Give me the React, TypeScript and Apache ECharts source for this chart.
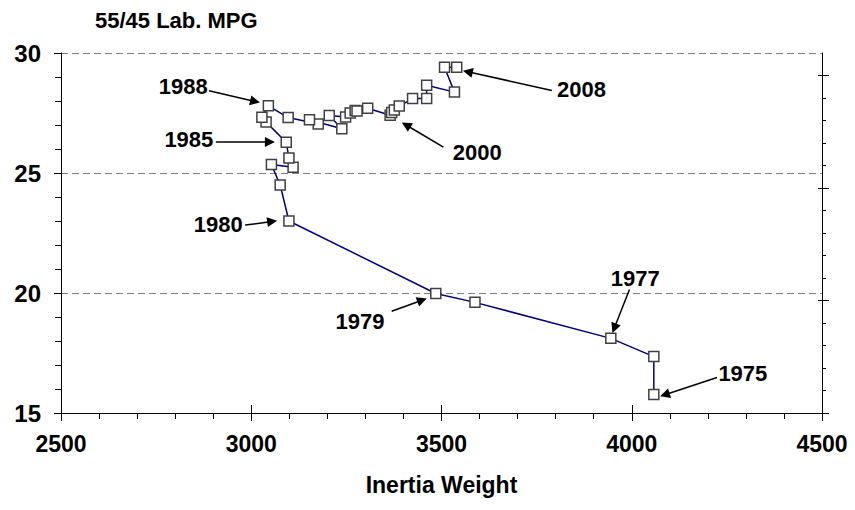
import React, { useEffect, useRef } from "react";
import * as echarts from "echarts";

// ---- data ----
const years = [
  1975, 1976, 1977, 1978, 1979, 1980, 1981, 1982, 1983, 1984, 1985, 1986,
  1987, 1988, 1989, 1990, 1991, 1992, 1993, 1994, 1995, 1996, 1997, 1998,
  1999, 2000, 2001, 2002, 2003, 2004, 2005, 2006, 2007, 2008,
];
const inertiaWeight = [
  4058, 4058, 3945, 3588, 3485, 3099, 3076, 3053, 3110, 3099, 3092, 3039,
  3028, 3045, 3097, 3176, 3153, 3238, 3205, 3248, 3260, 3273, 3278, 3306,
  3365, 3369, 3376, 3389, 3424, 3461, 3461, 3534, 3508, 3540,
];
const labMpg = [
  15.77, 17.35, 18.11, 19.61, 19.98, 23.0, 24.5, 25.35, 25.24, 25.63, 26.28,
  27.12, 27.32, 27.8, 27.31, 27.04, 27.22, 26.84, 27.4, 27.33, 27.5, 27.6,
  27.58, 27.7, 27.41, 27.52, 27.63, 27.79, 28.1, 28.1, 28.66, 28.37, 29.41,
  29.41,
];

// axis settings
const xMin = 2500;
const xMax = 4500;
const xStep = 500;
const yMin = 15;
const yMax = 30;
const yStep = 5;
// secondary (right) axis: unlabelled, ticks only
const rightMax = 16;
const rightMajor = [0, 5, 10, 15];
const rightMinor = [1, 2, 3, 4, 6, 7, 8, 9, 11, 12, 13, 14];

// annotations (data coordinates)
const noteLabels = ["1988", "1985", "1980", "1979", "1977", "1975", "2000", "2008"];
const noteTextAt = [
  [2821, 28.59], [2836, 26.38], [2913, 22.87], [3286, 18.83],
  [4009, 20.61], [4292, 16.66], [3594, 25.85], [3868, 28.5],
];
const noteArrowFrom = [
  [2889, 28.43], [2907, 26.3], [2984, 22.83], [3369, 19.24],
  [3994, 20.15], [4224, 16.48], [3505, 26.08], [3790, 28.44],
];
const noteArrowTo = [
  [3010, 27.98], [3049, 26.29], [3055, 22.98], [3449, 19.7],
  [3954, 18.53], [4087, 15.76], [3407, 27.0], [3569, 29.22],
];

const titleText = "55/45 Lab. MPG";
const xName = "Inertia Weight";

const FONT = "'Liberation Sans', Arial, Helvetica, sans-serif";

export default function App() {
  const ref = useRef<HTMLDivElement>(null);

  useEffect(() => {
    document.body.style.margin = "0";
    const chart = echarts.init(ref.current as HTMLDivElement, null, {
      renderer: "svg",
    });

    const labelStyle = {
      color: "#000000",
      fontWeight: "bold" as const,
      fontSize: 23,
      fontFamily: FONT,
    };

    const option: any = {
      animation: false,
      backgroundColor: "#fff",
      title: {
        text: titleText,
        left: 95,
        top: 9,
        padding: 0,
        textStyle: { ...labelStyle, fontSize: 22 },
      },
      grid: { left: 61, top: 53, width: 761, height: 360, containLabel: false },
      xAxis: [
        {
          type: "value",
          min: xMin,
          max: xMax,
          interval: xStep,
          position: "bottom",
          name: xName,
          nameLocation: "middle",
          nameGap: 60,
          nameTextStyle: { ...labelStyle },
          axisLine: { show: true, onZero: false, lineStyle: { color: "#000", width: 1 } },
          axisTick: { show: true, inside: false, length: 8, lineStyle: { color: "#000" } },
          minorTick: { show: true, splitNumber: 5, length: 6, lineStyle: { color: "#000" } },
          axisLabel: { ...labelStyle, margin: 19, formatter: (v: number) => String(v) },
          splitLine: { show: false },
        },
        {
          type: "value",
          min: xMin,
          max: xMax,
          interval: xStep,
          position: "bottom",
          axisLine: { show: false, onZero: false },
          axisTick: { show: true, inside: true, length: 8, lineStyle: { color: "#000" } },
          axisLabel: { show: false },
          splitLine: { show: false },
        },
      ],
      yAxis: [
        {
          type: "value",
          min: yMin,
          max: yMax,
          interval: yStep,
          position: "left",
          axisLine: { show: true, onZero: false, lineStyle: { color: "#000", width: 1 } },
          axisTick: { show: true, inside: false, length: 7, lineStyle: { color: "#000" } },
          minorTick: { show: true, splitNumber: 5, length: 6, lineStyle: { color: "#000" } },
          axisLabel: { ...labelStyle, fontSize: 24, margin: 20, formatter: (v: number) => String(v) },
          splitLine: {
            show: true,
            lineStyle: { color: "#7f7f7f", width: 1, type: [7, 4] },
          },
        },
        {
          type: "value",
          min: 0,
          max: rightMax,
          position: "right",
          axisLine: { show: true, onZero: false, lineStyle: { color: "#000", width: 1 } },
          axisTick: {
            show: true,
            inside: false,
            length: 7,
            customValues: rightMajor,
            lineStyle: { color: "#000" },
          },
          axisLabel: { show: false },
          splitLine: { show: false },
        },
        {
          type: "value",
          min: 0,
          max: rightMax,
          position: "right",
          axisLine: { show: false, onZero: false },
          axisTick: {
            show: true,
            inside: true,
            length: 4,
            customValues: rightMajor,
            lineStyle: { color: "#000" },
          },
          axisLabel: { show: false },
          splitLine: { show: false },
        },
        {
          type: "value",
          min: 0,
          max: rightMax,
          position: "right",
          axisLine: { show: false, onZero: false },
          axisTick: {
            show: true,
            inside: false,
            length: 4,
            customValues: rightMinor,
            lineStyle: { color: "#000" },
          },
          axisLabel: { show: false },
          splitLine: { show: false },
        },
      ],
      series: [
        {
          name: "Lab MPG",
          type: "line",
          xAxisIndex: 0,
          yAxisIndex: 0,
          data: years.map((yr, i) => [inertiaWeight[i], labMpg[i], yr]),
          symbol: "rect",
          symbolSize: 10,
          showAllSymbol: true,
          lineStyle: { color: "#000080", width: 1.5 },
          itemStyle: { color: "#fff", borderColor: "#404040", borderWidth: 1.5 },
          z: 3,
        },
        {
          name: "arrows",
          type: "line",
          xAxisIndex: 0,
          yAxisIndex: 0,
          data: [],
          markLine: {
            silent: true,
            symbol: ["none", "triangle"],
            symbolSize: 10,
            itemStyle: { color: "#000" },
            lineStyle: { color: "#000", width: 1.5, type: "solid", opacity: 1 },
            label: { show: false },
            emphasis: { disabled: true },
            data: noteLabels.map((_, i) => [
              { coord: noteArrowFrom[i] },
              { coord: noteArrowTo[i] },
            ]),
          },
          z: 4,
        },
        {
          name: "notes",
          type: "scatter",
          xAxisIndex: 0,
          yAxisIndex: 0,
          symbolSize: 0,
          itemStyle: { opacity: 1 },
          data: noteLabels.map((t, i) => [noteTextAt[i][0], noteTextAt[i][1], t]),
          label: {
            show: true,
            position: "inside",
            formatter: (p: any) => p.data[2],
            ...labelStyle,
            fontSize: 22,
            textBorderWidth: 0,
            align: "center",
            verticalAlign: "middle",
          },
          z: 5,
        },
      ],
    };

    chart.setOption(option);
    return () => chart.dispose();
  }, []);

  return <div ref={ref} style={{ width: 855, height: 510 }} />;
}
